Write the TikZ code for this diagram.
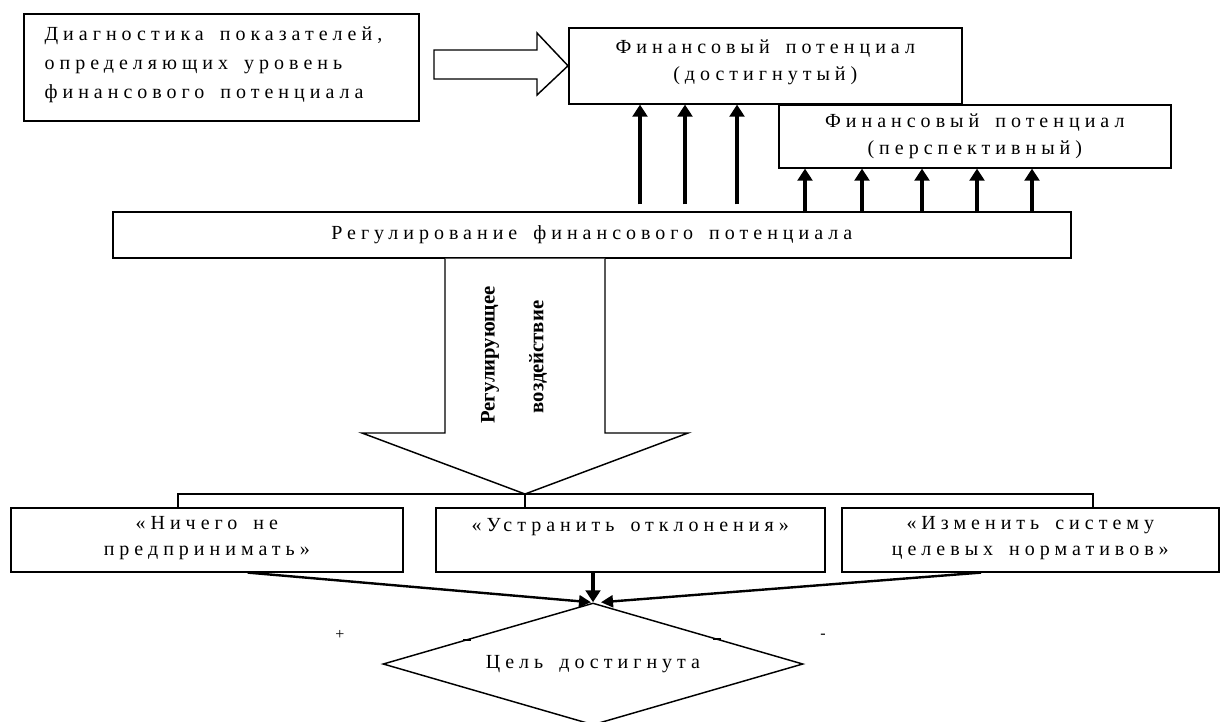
\documentclass[tikz,border=0pt]{standalone}
\usepackage{fontspec}
\setmainfont{Liberation Serif}
\newfontfamily\spfont[LetterSpace=25,WordSpace={1.6,1,0}]{Liberation Serif}
\usetikzlibrary{arrows.meta,shapes.geometric}
\tikzset{
  box/.style={draw, line width=1.2pt, rectangle, inner sep=0pt, anchor=north west, align=center,
    font=\spfont\fontsize{15}{20}\selectfont},
  uparr/.style={line width=2.6pt, -{Triangle[width=11pt,length=9pt]}},
  darr/.style={line width=1.8pt, -{Triangle[width=9pt,length=9pt]}},
  thin/.style={line width=1.1pt},
  bigarrow/.style={line width=1.1pt, fill=white, line join=miter},
  rot/.style={rotate=90, font=\bfseries\fontsize{15.5}{18}\selectfont},
}
\begin{document}
\begin{tikzpicture}[x=0.75pt, y=-0.75pt]
\useasboundingbox (0,0) rectangle (1223,721);
\clip (0,0) rectangle (1223,721);

% top boxes
\node[box, minimum width=296.25pt, minimum height=80.25pt] (diag) at (23,13) {};
\node[anchor=north west, inner sep=0pt, align=left,
      font=\spfont\fontsize{15}{21.6}\selectfont] (diagtxt) at ([shift={(16pt,-10.5pt)}]diag.north west)
  {Диагностика показателей,\\определяющих уровень\\финансового потенциала};
\node[box, minimum width=294.75pt, minimum height=57pt] (fpd) at (568,27)
  {Финансовый потенциал\\(достигнутый)\\[-12pt]~};
\node[box, minimum width=294pt, minimum height=47.25pt] (fpp) at (778,104)
  {Финансовый потенциал\\(перспективный)};
\node[box, minimum width=718.5pt, minimum height=34.5pt] (reg) at (112,211)
  {Регулирование финансового потенциала};

% block arrow right
\draw[bigarrow] (434,50) -- (537,50) -- (537,33) -- (fpd.west) -- (537,95) -- (537,79) -- (434,79) -- cycle;

% up arrows
\foreach \x in {640,685,737}{
  \path (\x,0) coordinate (t);
  \draw[uparr, shorten <=5pt] (reg.north -| t) -- (fpd.south -| t);
}
\foreach \x in {805,862,922,977,1032}{
  \path (\x,0) coordinate (t);
  \draw[uparr] ([yshift=-1.5pt]reg.north -| t) -- (fpp.south -| t);
}

% block arrow down
\coordinate (tip) at (525,494);
\draw[bigarrow] (reg.south -| 445,0) -- (445,433) -- (362,433) -- (tip) -- (688,433) -- (605,433) -- (reg.south -| 605,0);
\node[rot] (rt1) at (490,355) {Регулирующее};
\node[rot] (rt2) at (538,357) {воздействие};

% bottom boxes
\node[box, minimum width=294pt, minimum height=48pt] (b1) at (10,507)
  {~\\[-13pt]«Ничего не\\предпринимать»};
\node[box, minimum width=291.75pt, minimum height=48pt] (b2) at (435,507)
  {~\\[-13pt]«Устранить отклонения»\\~};
\node[box, minimum width=282.75pt, minimum height=48pt] (b3) at (841,507)
  {~\\[-13pt]«Изменить систему\\целевых нормативов»};

% bus
\coordinate (busL) at (178,494);
\coordinate (busR) at (1093,494);
\draw[thin] (b1.north -| busL) -- (busL) -- (busR) -- (b3.north -| busR);
\draw[thin] (tip) -- (b2.north -| tip);

% diamond
\node[draw, thin, diamond, aspect=3.44, inner sep=0pt, minimum width=315pt, minimum height=91.5pt,
      font=\spfont\fontsize{15}{18}\selectfont] (dia) at (593,664) {Цель достигнута};

% arrows into diamond
\draw[darr] ([xshift=30.75pt]b1.south) -- ([xshift=-1.5pt]dia.north);
\draw[uparr, line width=2.4pt] (b2.south -| dia.north) -- (dia.north);
\draw[darr] ([xshift=-37pt]b3.south) -- ([xshift=6pt]dia.north);

% ticks and signs
\draw[thin] (463,640) -- (471,640);
\draw[thin] (713,639) -- (721,639);
\node[font=\fontsize{12}{12}\selectfont] (plus) at (340,635) {+};
\node[font=\fontsize{12}{12}\selectfont] (minus) at (823,636) {-};
\end{tikzpicture}
\end{document}
